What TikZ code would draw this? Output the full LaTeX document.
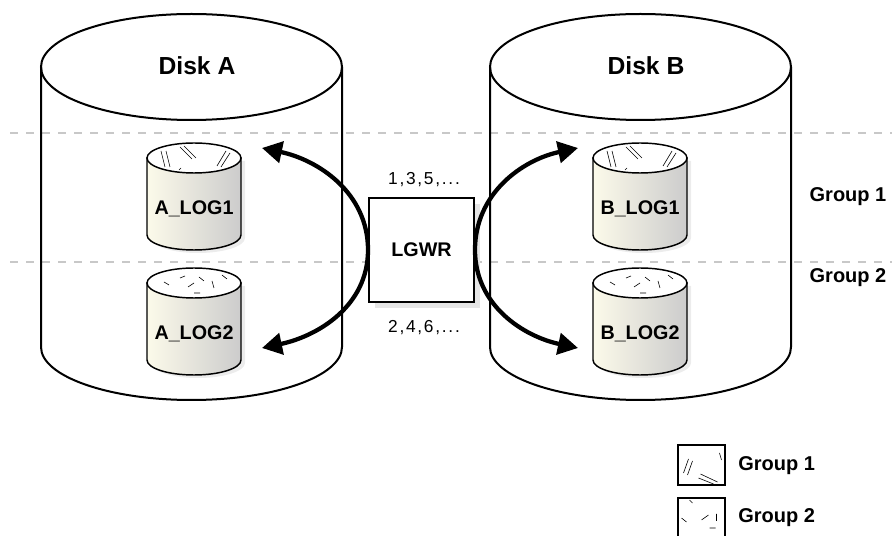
\documentclass[tikz,border=0pt]{standalone}
\usepackage{fontspec}
\setmainfont{Liberation Sans}
\usetikzlibrary{arrows.meta,shadows}

\definecolor{logcream}{HTML}{FCFAEA}
\definecolor{loggray}{HTML}{CCCCCC}
\definecolor{rulegray}{HTML}{C8C8C8}

% scratch marks on the top of a log cylinder
\newcommand{\hatchone}[2]{
	\draw[hatch,shift={(#1,#2)}] (-33,7) -- (-29,-9) (-28,7) -- (-24,-9) (-14,11) -- (-2,-1) (-10,12) -- (2,0) (32,7) -- (23,-8) (36,5) -- (27,-9) (-15,-12) -- (-13,-10);
}
\newcommand{\hatchtwo}[2]{
	\draw[hatch,shift={(#1,#2)}] (-30,1) -- (-25,-2) (-14,5) -- (-9,7) (-6,-4) -- (0,0) (5,6) -- (10,2) (18,2) -- (20,-5) (28,8) -- (33,4) (0,-10) -- (6,-10);
}
% one log cylinder: name, x, top y, label, marks
\newcommand{\logdisk}[5]{
	\fill[gray!15,shift={(4,-3)}] ({#2-47},#3) -- ({#2-47},{#3-77}) arc[start angle=180,end angle=360,x radius=47,y radius=15] -- ({#2+47},#3) -- cycle;
	\shadedraw[left color=logcream,right color=loggray,line width=1.1pt] ({#2-47},#3) -- ({#2-47},{#3-77}) arc[start angle=180,end angle=360,x radius=47,y radius=15] -- ({#2+47},#3) -- cycle;
	\filldraw[fill=white,line width=1.1pt] (#2,#3) ellipse [x radius=47,y radius=15];
	#5{#2}{#3}
	\node[logtext] (#1) at (#2,{#3-56.5}) {#4};
}

\begin{document}
\begin{tikzpicture}[x=0.75pt,y=0.75pt,
		hatch/.style={line width=0.45pt},
		disk/.style={line width=1.5pt},
		rule/.style={rulegray,line width=1.5pt,dash pattern=on 6pt off 6pt},
		disktext/.style={font=\bfseries\fontsize{18.5}{20}\selectfont,anchor=base,inner sep=0pt},
		logtext/.style={font=\bfseries\fontsize{14.8}{16}\selectfont,anchor=base,inner sep=0pt},
		grptext/.style={font=\bfseries\fontsize{15}{17}\selectfont,anchor=base,inner sep=0pt},
		seqtext/.style={font=\fontsize{13}{15}\selectfont\addfontfeature{LetterSpace=10},anchor=base,inner sep=0pt},
		writer/.style={draw,fill=white,line width=1.5pt,minimum width=78.75pt,minimum height=78pt,inner sep=0pt,
			font=\bfseries\fontsize{14.8}{16}\selectfont,
			drop shadow={shadow xshift=4.5pt,shadow yshift=-4.5pt,fill=black!10,opacity=1}},
		keybox/.style={draw,fill=white,line width=1.5pt,minimum width=35.25pt,minimum height=30pt,inner sep=0pt},
		flow/.style={line width=3.2pt,{Triangle[length=15pt,width=16pt]}-{Triangle[length=15pt,width=16pt]}}]

	\useasboundingbox (0,0) rectangle (894,536);
	\clip (0,0) rectangle (894,536);

	\draw[rule] (10,403) -- (892,403);
	\draw[rule] (10,274) -- (892,274);

	% the two disks
	\foreach \cx in {191.5,640.5}{
		\draw[disk] (\cx,469) ellipse [x radius=150.5,y radius=53];
		\draw[disk] ({\cx-150.5},469) -- ({\cx-150.5},189) arc[start angle=180,end angle=360,x radius=150.5,y radius=53] -- ({\cx+150.5},469);
	}
	\node[disktext] (diska) at (197,461) {Disk A};
	\node[disktext] (diskb) at (646,461) {Disk B};

	\node[writer] (lgwr) at (421.5,286) {LGWR};
	\node[seqtext] (odd) at (424,351) {1,3,5,...};
	\node[seqtext] (even) at (424,203) {2,4,6,...};

	\coordinate (tipa1) at (262,388);
	\coordinate (tipa2) at (262,188);
	\coordinate (tipb1) at (578,388);
	\coordinate (tipb2) at (578,188);
	\draw[flow] (tipa1) to[out=-12,in=90] (lgwr.west) to[out=-90,in=12] (tipa2);
	\draw[flow] (tipb1) to[out=192,in=90] (lgwr.east) to[out=-90,in=168] (tipb2);

	\logdisk{alog1}{194}{378}{A\_LOG1}{\hatchone}
	\logdisk{alog2}{194}{253}{A\_LOG2}{\hatchtwo}
	\logdisk{blog1}{640}{378}{B\_LOG1}{\hatchone}
	\logdisk{blog2}{640}{253}{B\_LOG2}{\hatchtwo}

	\node[grptext] (grp1) at (848,334) {Group 1};
	\node[grptext] (grp2) at (848,253) {Group 2};

	% key
	\node[keybox] (keyone) at (701.5,71) {};
	\draw[hatch,shift={(keyone.center)}] (-18,-8) -- (-13,6) (-14,-10) -- (-9,4) (18,12) -- (20,5) (-1,-9) -- (16,-17) (-3,-13) -- (12,-19);
	\node[keybox] (keytwo) at (701.5,18) {};
	\draw[hatch,shift={(keytwo.center)}] (-12,18) -- (-9,15) (-20,0) -- (-15,-4) (0,-2) -- (7,3) (15,4) -- (15,-3) (8,-10) -- (14,-10);
	\node[grptext,anchor=base west] (keyonetext) at (738,65.5) {Group 1};
	\node[grptext,anchor=base west] (keytwotext) at (738,13.5) {Group 2};
\end{tikzpicture}
\end{document}
